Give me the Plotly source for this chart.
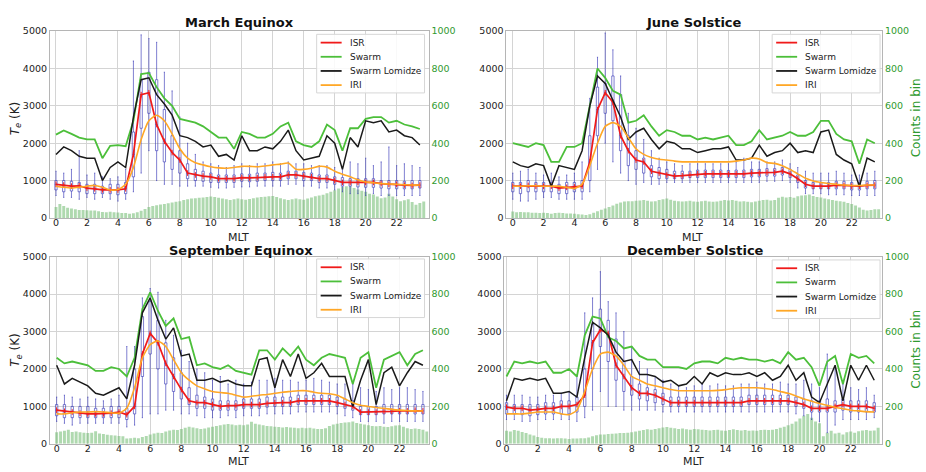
import plotly.graph_objects as go

# ---- shared grids and ticks ----
MLT_TICKS = list(range(0, 24, 2))
TE_TICKS = [0, 1000, 2000, 3000, 4000, 5000]
COUNT_TICKS = [0, 200, 400, 600, 800, 1000]
MLT_HALF = [h * 0.5 for h in range(48)]      # half-hour bins
MLT_QUARTER = [h * 0.25 for h in range(96)]  # quarter-hour bins for counts

PANEL_TITLES = ["March Equinox", "June Solstice", "September Equinox", "December Solstice"]
SERIES_NAMES = ["ISR", "Swarm", "Swarm Lomidze", "IRI"]

# ---- March equinox ----
MAR_ISR = [900, 880, 850, 860, 800, 780, 750, 750, 750, 780, 1700, 3300, 3350, 2500, 2050, 1750,
           1550, 1200, 1150, 1120, 1100, 1050, 1050, 1050, 1080, 1070, 1080, 1100, 1100, 1100, 1150, 1150,
           1120, 1100, 1050, 1050, 1000, 950, 950, 950, 950, 950, 920, 900, 900, 880, 870, 880]
MAR_SWARM = [2230, 2340, 2250, 2150, 2100, 2100, 1600, 1930, 1950, 1920, 2600, 3850, 3880, 3500, 3200, 3000,
             2650, 2600, 2550, 2450, 2300, 2150, 2150, 1850, 2300, 2250, 2150, 2150, 2250, 2450, 2550, 2050,
             1950, 1900, 2050, 2500, 2350, 1800, 2400, 2400, 2650, 2700, 2700, 2550, 2600, 2500, 2450, 2380]
MAR_LOMIDZE = [1700, 1900, 1800, 1650, 1600, 1600, 1000, 1350, 1500, 1350, 2700, 3700, 3750, 3300, 3050, 2750,
               2200, 2150, 2050, 1900, 1950, 1650, 1700, 1550, 2200, 1800, 1800, 1900, 1850, 2050, 2350, 1800,
               1550, 1600, 1650, 2200, 2000, 1300, 2150, 1900, 2600, 2550, 2600, 2300, 2350, 2200, 2150, 1950]
MAR_IRI = [850, 820, 800, 820, 850, 870, 820, 750, 760, 900, 1350, 2100, 2600, 2750, 2600, 2250,
           1850, 1600, 1480, 1420, 1370, 1340, 1330, 1350, 1380, 1380, 1370, 1390, 1420, 1440, 1470, 1300,
           1300, 1330, 1380, 1360, 1250, 1170, 1100, 1020, 960, 940, 920, 910, 900, 890, 880, 880]
MAR_Q1 = [750, 700, 720, 700, 650, 650, 650, 650, 620, 650, 1100, 2400, 2800, 1800, 1500, 1300,
          1200, 1050, 1000, 980, 950, 950, 950, 950, 980, 970, 980, 1000, 1000, 1000, 1050, 1050,
          1000, 1000, 950, 950, 900, 850, 850, 830, 820, 820, 800, 780, 780, 780, 780, 800]
MAR_Q3 = [1000, 1000, 980, 950, 900, 900, 850, 900, 900, 950, 2300, 3700, 3900, 3700, 2900, 2200,
          1800, 1450, 1300, 1250, 1200, 1150, 1150, 1150, 1180, 1170, 1200, 1200, 1220, 1200, 1250, 1250,
          1220, 1200, 1150, 1150, 1100, 1080, 1050, 1050, 1050, 1050, 1000, 1000, 1000, 980, 1000, 1000]
MAR_LO = [600, 550, 550, 500, 550, 500, 550, 500, 450, 500, 700, 1200, 1800, 1000, 900, 900,
          850, 850, 850, 850, 820, 800, 800, 820, 830, 830, 850, 850, 850, 850, 900, 900,
          850, 850, 800, 800, 750, 700, 650, 650, 600, 650, 600, 600, 600, 600, 600, 600]
MAR_HI = [1250, 1200, 1300, 1800, 1150, 1200, 1100, 1050, 1100, 1300, 4200, 4900, 4800, 4700, 3900, 3400,
          2700, 2000, 1700, 1500, 1450, 1400, 1350, 1400, 1450, 1400, 1450, 1450, 1500, 1450, 1500, 1450,
          1450, 1400, 1400, 1400, 1350, 1350, 1500, 1450, 1600, 1400, 1500, 1900, 1400, 1450, 1400, 1350]
MAR_COUNTS = [58, 74, 64, 55, 50, 46, 42, 42, 41, 40, 40, 36, 32, 31, 33, 30,
              29, 27, 26, 22, 25, 30, 38, 48, 58, 64, 68, 72, 74, 78, 82, 86,
              90, 96, 100, 104, 106, 108, 110, 112, 115, 112, 108, 104, 100, 96, 100, 104,
              100, 98, 102, 106, 110, 112, 114, 116, 118, 112, 106, 100, 96, 100, 104, 100,
              98, 104, 110, 116, 120, 124, 132, 140, 148, 158, 166, 170, 168, 160, 152, 145,
              140, 130, 125, 115, 105, 110, 130, 115, 100, 90, 95, 100, 85, 70, 80, 88]

# ---- June solstice ----
JUN_ISR = [850, 850, 870, 850, 850, 850, 800, 820, 830, 850, 1500, 2900, 3350, 3100, 2200, 1800,
           1550, 1500, 1250, 1200, 1150, 1120, 1130, 1150, 1180, 1180, 1180, 1180, 1170, 1180, 1180, 1200,
           1200, 1220, 1220, 1250, 1180, 1050, 900, 850, 850, 850, 880, 870, 850, 850, 870, 880]
JUN_SWARM = [2000, 1950, 1900, 2000, 1950, 1500, 1500, 1900, 1900, 2000, 3000, 4000, 3750, 3400, 3300, 2550,
             2600, 2750, 2450, 2200, 2350, 2300, 2200, 2200, 2100, 2150, 2100, 2150, 2200, 1950, 1950, 2050,
             2350, 2100, 2150, 2200, 2300, 2200, 2200, 2300, 2600, 2600, 2250, 2100, 2050, 1450, 2100, 2000]
JUN_LOMIDZE = [1500, 1400, 1350, 1450, 1400, 850, 1400, 1350, 1300, 1800, 3000, 3800, 3600, 3150, 2700, 2100,
               2300, 2400, 2100, 1850, 2050, 2000, 1850, 1850, 1750, 1800, 1850, 1850, 1900, 1550, 1550, 1600,
               1950, 1650, 1750, 1800, 2000, 1750, 1800, 1750, 2300, 2350, 1700, 1550, 1450, 850, 1600, 1500]
JUN_IRI = [850, 850, 860, 860, 850, 850, 850, 820, 790, 900, 1400, 2000, 2450, 2550, 2450, 2150,
           1850, 1700, 1620, 1570, 1550, 1520, 1500, 1500, 1500, 1500, 1500, 1500, 1500, 1520, 1550, 1600,
           1580, 1480, 1460, 1400, 1300, 1180, 1060, 990, 950, 920, 900, 880, 870, 870, 880, 880]
JUN_Q1 = [700, 650, 700, 700, 700, 700, 650, 650, 700, 700, 1000, 2200, 2800, 2600, 1800, 1400,
          1300, 1200, 1100, 1050, 1050, 1050, 1050, 1080, 1080, 1080, 1080, 1080, 1080, 1080, 1080, 1100,
          1100, 1120, 1120, 1150, 1080, 950, 800, 780, 780, 780, 780, 780, 750, 750, 780, 780]
JUN_Q3 = [950, 950, 1000, 950, 950, 950, 900, 950, 950, 1000, 2200, 3500, 3600, 3800, 3300, 2200,
          1800, 1600, 1400, 1350, 1300, 1250, 1250, 1250, 1280, 1280, 1280, 1280, 1270, 1280, 1280, 1300,
          1300, 1320, 1320, 1350, 1300, 1150, 1000, 950, 950, 950, 980, 980, 950, 950, 980, 1000]
JUN_LO = [500, 450, 450, 500, 550, 550, 500, 500, 500, 500, 700, 1300, 2000, 1500, 1200, 1000,
          900, 950, 900, 900, 950, 950, 950, 950, 950, 950, 950, 950, 950, 950, 950, 950,
          950, 980, 980, 1000, 950, 800, 650, 650, 650, 620, 620, 620, 600, 600, 600, 600]
JUN_HI = [1200, 1250, 1300, 1200, 1150, 1200, 1100, 1150, 1200, 1500, 3200, 4300, 4950, 4500, 3800, 2800,
          2400, 2100, 1800, 1600, 1500, 1450, 1400, 1450, 1450, 1450, 1450, 1450, 1450, 1500, 1600, 1500,
          1500, 1500, 1500, 1550, 1450, 1350, 1250, 1200, 1200, 1200, 1250, 1200, 1150, 1150, 1200, 1250]
JUN_COUNTS = [34, 30, 32, 30, 30, 28, 28, 26, 28, 26, 22, 26, 28, 26, 24, 24,
              22, 20, 18, 16, 20, 28, 36, 44, 50, 58, 66, 76, 82, 88, 90, 90,
              92, 94, 96, 92, 88, 90, 96, 100, 104, 98, 92, 90, 88, 90, 92, 88,
              86, 90, 92, 88, 86, 88, 92, 96, 94, 96, 92, 88, 90, 86, 84, 88,
              92, 96, 98, 94, 96, 108, 114, 110, 112, 108, 116, 120, 122, 126, 118, 112,
              110, 104, 100, 96, 92, 90, 86, 80, 74, 66, 56, 44, 40, 42, 46, 46]

# ---- September equinox ----
SEP_ISR = [900, 870, 850, 820, 800, 800, 800, 820, 850, 780, 1000, 2400, 2950, 2700, 2150, 1800,
           1450, 1150, 1100, 1100, 1050, 1000, 1020, 1020, 1050, 1050, 1050, 1080, 1100, 1100, 1100, 1150,
           1150, 1150, 1150, 1150, 1100, 1050, 1000, 850, 850, 850, 870, 870, 880, 880, 900, 880]
SEP_SWARM = [2300, 2150, 2200, 2150, 2100, 1950, 1950, 2050, 2000, 1800, 2300, 3600, 4050, 3550, 3150, 3350,
             2800, 2850, 2100, 2150, 2050, 2000, 2100, 1950, 1900, 1850, 2500, 2500, 2250, 2550, 2350, 2600,
             2250, 2100, 2300, 2400, 2350, 2300, 1600, 2300, 2450, 1500, 2250, 2350, 2450, 2100, 2400, 2500]
SEP_LOMIDZE = [2100, 1600, 1750, 1650, 1550, 1350, 1300, 1400, 1500, 1200, 2100, 3500, 3900, 3300, 2800, 3100,
               2350, 2400, 1700, 1700, 1750, 1650, 1700, 1600, 1550, 1550, 2250, 2300, 1500, 2250, 1800, 2400,
               1750, 1900, 2150, 1800, 1800, 1800, 1000, 1700, 2250, 1050, 1900, 2050, 1550, 1900, 2200, 2100]
SEP_IRI = [800, 800, 830, 850, 850, 860, 850, 830, 820, 950, 1500, 2300, 2650, 2750, 2600, 2250,
           1900, 1700, 1550, 1470, 1400, 1370, 1350, 1300, 1250, 1270, 1300, 1320, 1350, 1380, 1400, 1420,
           1420, 1380, 1350, 1340, 1300, 1200, 1100, 1030, 1000, 970, 950, 920, 900, 890, 880, 880]
SEP_Q1 = [750, 700, 700, 700, 700, 700, 700, 700, 700, 650, 800, 1800, 2400, 2000, 1600, 1400,
          1200, 1050, 950, 950, 900, 900, 900, 900, 950, 950, 950, 980, 1000, 1000, 1000, 1050,
          1050, 1050, 1050, 1050, 1000, 950, 900, 780, 780, 780, 800, 800, 800, 800, 800, 800]
SEP_Q3 = [1050, 1050, 1000, 1000, 1000, 950, 950, 1000, 1000, 950, 2000, 3400, 3800, 3300, 2700, 2300,
          1900, 1500, 1300, 1250, 1200, 1150, 1150, 1150, 1200, 1200, 1200, 1250, 1250, 1250, 1250, 1300,
          1300, 1300, 1300, 1300, 1250, 1200, 1150, 1000, 1000, 1000, 1050, 1050, 1050, 1050, 1050, 1050]
SEP_LO = [600, 550, 500, 550, 550, 550, 550, 550, 550, 450, 500, 700, 800, 800, 900, 900,
          800, 800, 750, 700, 700, 700, 750, 700, 750, 750, 750, 800, 800, 800, 800, 850,
          850, 850, 850, 850, 800, 750, 700, 600, 600, 600, 550, 600, 600, 600, 600, 600]
SEP_HI = [1250, 1300, 1250, 1200, 1250, 1200, 1150, 1200, 1300, 2600, 2600, 3900, 4150, 4050, 3300, 2900,
          2500, 2200, 2000, 1900, 1700, 1800, 1600, 1700, 1600, 1650, 1700, 1700, 1750, 1700, 1700, 1650,
          1700, 1750, 1700, 1650, 1600, 1600, 1600, 1500, 1450, 1400, 1500, 1450, 1500, 1500, 1450, 1400]
SEP_COUNTS = [62, 66, 70, 76, 64, 66, 62, 60, 58, 60, 68, 56, 52, 48, 46, 44,
              42, 40, 28, 30, 32, 30, 36, 42, 50, 56, 60, 58, 66, 72, 76, 74,
              80, 86, 92, 88, 84, 80, 82, 88, 92, 96, 100, 104, 106, 104, 100, 102,
              100, 104, 118, 108, 104, 100, 96, 94, 92, 90, 88, 90, 88, 86, 84, 86,
              84, 86, 82, 80, 80, 84, 96, 104, 108, 112, 114, 116, 120, 112, 108, 104,
              100, 96, 94, 96, 92, 90, 94, 98, 100, 92, 84, 80, 82, 80, 76, 66]

# ---- December solstice ----
DEC_ISR = [980, 950, 950, 900, 920, 950, 950, 1000, 1000, 1050, 1300, 2700, 3050, 2950, 2100, 1800,
           1500, 1350, 1350, 1300, 1200, 1100, 1100, 1100, 1100, 1100, 1100, 1100, 1100, 1100, 1100, 1150,
           1150, 1150, 1150, 1150, 1150, 1100, 1050, 950, 950, 950, 1000, 1050, 1000, 1000, 1000, 950]
DEC_SWARM = [1800, 2200, 2150, 2200, 2150, 2200, 1900, 1900, 2000, 1800, 2900, 3400, 3350, 2850, 2750, 2550,
             2600, 2350, 2250, 2250, 2050, 2050, 2050, 2000, 2150, 2200, 2200, 2150, 2300, 2250, 2300, 2250,
             2250, 2200, 2250, 2150, 2450, 2250, 2300, 2050, 1550, 2200, 2350, 1600, 2400, 2300, 2350, 2150]
DEC_LOMIDZE = [1150, 1750, 1700, 1750, 1700, 1750, 1350, 1350, 1400, 1250, 2300, 3250, 3100, 2900, 2450, 2200,
               2250, 1850, 1850, 1800, 1650, 1700, 1550, 1600, 1800, 1600, 1900, 1800, 1900, 1850, 1850, 1900,
               1800, 1900, 1700, 1800, 2100, 1700, 1900, 1250, 1100, 1600, 2100, 1150, 2100, 1700, 2100, 1700]
DEC_IRI = [800, 800, 800, 820, 850, 850, 850, 800, 780, 900, 1400, 2000, 2400, 2450, 2350, 2100,
           1800, 1700, 1600, 1550, 1500, 1450, 1420, 1420, 1420, 1420, 1420, 1430, 1450, 1480, 1500, 1500,
           1500, 1480, 1450, 1400, 1350, 1280, 1200, 1140, 1080, 1030, 980, 940, 900, 880, 860, 850]
DEC_Q1 = [800, 800, 780, 750, 780, 800, 800, 800, 800, 850, 1000, 2000, 2600, 2200, 1700, 1400,
          1300, 1200, 1150, 1100, 1050, 1000, 1000, 1000, 1000, 1000, 1000, 1000, 1000, 1000, 1000, 1050,
          1050, 1050, 1050, 1050, 1050, 1000, 950, 850, 850, 850, 850, 900, 850, 850, 850, 850]
DEC_Q3 = [1100, 1050, 1050, 1050, 1050, 1100, 1100, 1150, 1150, 1250, 2000, 3200, 3600, 3300, 2800, 2200,
          1800, 1600, 1500, 1450, 1350, 1250, 1250, 1250, 1250, 1250, 1250, 1250, 1250, 1250, 1250, 1300,
          1300, 1300, 1300, 1300, 1300, 1250, 1200, 1150, 1150, 1200, 1150, 1200, 1150, 1150, 1150, 1100]
DEC_LO = [650, 650, 600, 600, 650, 650, 650, 650, 650, 600, 700, 900, 1400, 1000, 1000, 900,
          900, 900, 900, 900, 850, 850, 850, 850, 850, 850, 850, 850, 850, 850, 850, 850,
          850, 850, 850, 850, 850, 800, 750, 650, 600, 300, 500, 650, 650, 650, 650, 700]
DEC_HI = [1300, 1300, 1300, 1250, 1250, 1300, 1300, 1350, 1400, 1800, 3500, 3900, 4600, 3800, 3500, 3000,
          2600, 2200, 2000, 1800, 1700, 1600, 1550, 1500, 1550, 1600, 1550, 1600, 1550, 1550, 1600, 1600,
          1650, 1600, 1600, 1650, 1600, 1600, 1700, 1600, 1500, 2400, 2000, 1600, 1500, 1450, 1500, 1300]
DEC_COUNTS = [70, 66, 74, 70, 64, 58, 50, 44, 36, 32, 30, 30, 28, 30, 30, 28,
              26, 28, 28, 30, 30, 34, 40, 46, 50, 50, 52, 54, 56, 58, 58, 60,
              62, 66, 70, 74, 78, 76, 80, 84, 88, 90, 86, 84, 80, 82, 78, 76,
              80, 78, 76, 74, 72, 74, 76, 72, 70, 74, 78, 74, 72, 74, 70, 72,
              70, 74, 76, 74, 76, 80, 86, 92, 100, 108, 120, 136, 150, 160, 140, 120,
              110, 40, 60, 70, 56, 60, 50, 62, 66, 60, 68, 72, 74, 70, 72, 86]

PANELS = [
    (MAR_ISR, MAR_SWARM, MAR_LOMIDZE, MAR_IRI, MAR_Q1, MAR_Q3, MAR_LO, MAR_HI, MAR_COUNTS),
    (JUN_ISR, JUN_SWARM, JUN_LOMIDZE, JUN_IRI, JUN_Q1, JUN_Q3, JUN_LO, JUN_HI, JUN_COUNTS),
    (SEP_ISR, SEP_SWARM, SEP_LOMIDZE, SEP_IRI, SEP_Q1, SEP_Q3, SEP_LO, SEP_HI, SEP_COUNTS),
    (DEC_ISR, DEC_SWARM, DEC_LOMIDZE, DEC_IRI, DEC_Q1, DEC_Q3, DEC_LO, DEC_HI, DEC_COUNTS),
]

# ---- layout geometry (pixels, converted to paper coordinates) ----
W, H = 926, 472
X_DOMAINS = [(49, 428), (506, 882), (49, 428), (504, 882)]
Y_DOMAINS = [(25.7, 217), (25.7, 217), (256.7, 448.3), (256.7, 448.3)]
X_RANGES = [(-0.39, 24.06), (-0.41, 23.97), (-0.43, 23.86), (-0.13, 24.0)]
LEGEND_BOX = [(316, 29), (772, 29), (316, 259), (772, 260)]   # top-left corner of each key
LEGEND_W, LEGEND_H = 108, 60
LEGEND_ROWS = [8.5, 23, 37.5, 52]
TITLE_POS = [(239, 17), (694, 17), (240, 250), (695, 250)]
MLT_POS = [(238, 237), (692, 237), (238, 466), (693, 466)]

FONT = "DejaVu Sans"
GREEN_TXT = "#2f9a2f"
GRID = "#d4d4d4"
SPINE = "#b5b5b5"
TICK_SIZE = 9.5

C_ISR = "#f01a1a"
C_SWARM = "#4cbf3a"
C_LOM = "#1a1a1a"
C_IRI = "#ffa726"
C_BOX = "rgba(50,50,180,0.62)"
C_BAR = "rgba(110,185,110,0.55)"
SERIES_COLORS = [C_ISR, C_SWARM, C_LOM, C_IRI]


def px(x):
    return x / W


def py(y):
    return 1 - y / H


fig = go.Figure()
layout = dict(
    width=W, height=H, margin=dict(l=0, r=0, t=0, b=0),
    paper_bgcolor="white", plot_bgcolor="white",
    font=dict(family=FONT, size=10, color="#222"),
    showlegend=False,
    annotations=[], shapes=[],
)


def note(text, x, y, size, color="#222", angle=0, xanchor="center"):
    layout["annotations"].append(dict(text=text, x=px(x), y=py(y), xref="paper", yref="paper",
                                      xanchor=xanchor, yanchor="middle", showarrow=False,
                                      textangle=angle, font=dict(size=size, family=FONT, color=color)))


for i, (isr, swarm, lom, iri, q1, q3, lo, hi, counts) in enumerate(PANELS):
    n = i + 1
    xa = "x" if n == 1 else f"x{n}"
    yb_id = 2 * n - 1          # base axis: counts (right side)
    yt_id = 2 * n              # overlay axis: electron temperature (left side)
    yb = "y" if yb_id == 1 else f"y{yb_id}"
    yt = f"y{yt_id}"

    fig.add_trace(go.Bar(x=MLT_QUARTER, y=counts, width=0.19, marker=dict(color=C_BAR, line=dict(width=0)),
                         xaxis=xa, yaxis=yb, hoverinfo="skip"))
    fig.add_trace(go.Box(x=MLT_HALF, q1=q1, median=isr, q3=q3, lowerfence=lo, upperfence=hi,
                         boxpoints=False, width=0.15, whiskerwidth=0.5,
                         line=dict(color=C_BOX, width=1), fillcolor="rgba(0,0,0,0)",
                         xaxis=xa, yaxis=yt, hoverinfo="skip"))
    fig.add_trace(go.Scatter(x=MLT_HALF, y=isr, mode="lines+markers", name="ISR",
                             line=dict(color=C_ISR, width=1.7),
                             marker=dict(symbol="line-ns-open", size=4, line=dict(color=C_ISR, width=1)),
                             xaxis=xa, yaxis=yt))
    fig.add_trace(go.Scatter(x=MLT_HALF, y=swarm, mode="lines", name="Swarm",
                             line=dict(color=C_SWARM, width=1.8), xaxis=xa, yaxis=yt))
    fig.add_trace(go.Scatter(x=MLT_HALF, y=lom, mode="lines", name="Swarm Lomidze",
                             line=dict(color=C_LOM, width=1.5), xaxis=xa, yaxis=yt))
    fig.add_trace(go.Scatter(x=MLT_HALF, y=iri, mode="lines", name="IRI",
                             line=dict(color=C_IRI, width=1.6, shape="spline", smoothing=0.6),
                             xaxis=xa, yaxis=yt))

    x0, x1 = X_DOMAINS[i]
    y0, y1 = Y_DOMAINS[i]
    xkey = "xaxis" if n == 1 else f"xaxis{n}"
    ybkey = "yaxis" if yb_id == 1 else f"yaxis{yb_id}"
    ytkey = f"yaxis{yt_id}"
    layout[xkey] = dict(domain=[px(x0), px(x1)], range=list(X_RANGES[i]), anchor=yb,
                        tickmode="array", tickvals=MLT_TICKS, ticks="", showgrid=True, gridcolor=GRID,
                        gridwidth=1, zeroline=False, showline=True, linecolor=SPINE, linewidth=1, mirror=True,
                        ticklabelstandoff=-4, tickfont=dict(size=TICK_SIZE, color="#222"))
    layout[ybkey] = dict(domain=[py(y1), py(y0)], range=[0, 1000], anchor=xa, side="right",
                         tickmode="array", tickvals=COUNT_TICKS, ticks="", showgrid=False, zeroline=False,
                         showline=True, linecolor=SPINE, linewidth=1,
                         tickfont=dict(size=TICK_SIZE, color=GREEN_TXT))
    layout[ytkey] = dict(range=[0, 5000], anchor=xa, overlaying=yb, side="left",
                         tickmode="array", tickvals=TE_TICKS, ticks="", showgrid=True, gridcolor=GRID,
                         gridwidth=1, zeroline=False, showline=True, linecolor=SPINE, linewidth=1,
                         tickfont=dict(size=TICK_SIZE, color="#222"))

    # key box with line samples
    lx, ly = LEGEND_BOX[i]
    layout["shapes"].append(dict(type="rect", xref="paper", yref="paper", layer="above",
                                 x0=px(lx), x1=px(lx + LEGEND_W), y0=py(ly + LEGEND_H), y1=py(ly),
                                 fillcolor="rgba(255,255,255,0.85)", line=dict(color="#d6d6d6", width=1)))
    for name, color, dy in zip(SERIES_NAMES, SERIES_COLORS, LEGEND_ROWS):
        layout["shapes"].append(dict(type="line", xref="paper", yref="paper", layer="above",
                                     x0=px(lx + 4), x1=px(lx + 25), y0=py(ly + dy), y1=py(ly + dy),
                                     line=dict(color=color, width=1.8)))
        note(name, lx + 31, ly + dy, 9, xanchor="left")

    tx, ty = TITLE_POS[i]
    note(f"<b>{PANEL_TITLES[i]}</b>", tx, ty, 13, color="#111")
    mx, my = MLT_POS[i]
    note("MLT", mx, my, 11)

# axis titles on the outer edges
for yc in (115, 352):
    note("<i>T</i><sub><i>e</i></sub> (K)", 15, yc, 12, angle=-90)
    note("Counts in bin", 916, yc, 12, color=GREEN_TXT, angle=-90)

fig.update_layout(**layout)
fig.write_html("out.html")
